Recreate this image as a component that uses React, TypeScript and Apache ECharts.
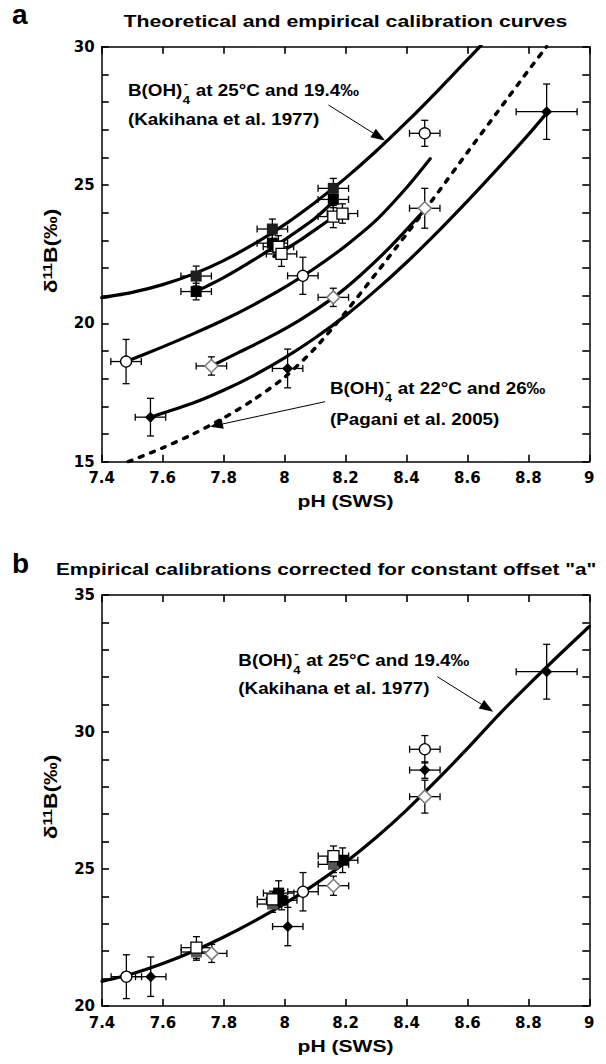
import React, { useEffect, useRef } from "react";
import * as echarts from "echarts";

// ---------- axes ----------
const X_MIN = 7.4;
const X_MAX = 9;
const X_STEP = 0.2;
const Y_MIN_A = 15;
const Y_MAX_A = 30;
const Y_MIN_B = 20;
const Y_MAX_B = 35;
const Y_STEP = 1;
const Y_LABEL_EVERY = 5;

// ---------- panel a: curves [pH, d11B] ----------
const kakihanaA = [
  [7.4, 20.93], [7.5, 21.12], [7.6, 21.4], [7.7, 21.78], [7.8, 22.27], [7.9, 22.87],
  [8.0, 23.57], [8.1, 24.37], [8.2, 25.25], [8.3, 26.22], [8.4, 27.27], [8.5, 28.38],
  [8.6, 29.53], [8.645, 30.05],
];
const blackSquareCurveA = [
  [7.71, 21.15], [7.8, 21.65], [7.9, 22.3], [8.0, 23.02], [8.1, 23.8], [8.165, 24.45],
];
const openSquareCurveA = [[7.965, 22.42], [8.05, 23.0], [8.1, 23.38], [8.18, 24.0]];
const openCircleCurveA = [
  [7.48, 18.62], [7.6, 19.15], [7.7, 19.62], [7.8, 20.12], [7.9, 20.68], [8.0, 21.3],
  [8.1, 22.0], [8.2, 22.8], [8.3, 23.72], [8.4, 24.9], [8.478, 25.95],
];
const openDiamondCurveA = [
  [7.76, 18.46], [7.85, 18.95], [7.95, 19.5], [8.05, 20.12], [8.16, 20.93], [8.25, 21.75],
  [8.35, 22.8], [8.46, 24.1],
];
const blackDiamondCurveA = [
  [7.56, 16.61], [7.7, 17.12], [7.8, 17.58], [7.9, 18.12], [8.0, 18.75], [8.1, 19.47],
  [8.2, 20.28], [8.3, 21.2], [8.4, 22.2], [8.5, 23.28], [8.6, 24.42], [8.7, 25.6],
  [8.8, 26.82], [8.86, 27.6],
];
const paganiA = [
  [7.487, 15.0], [7.6, 15.5], [7.7, 16.0], [7.8, 16.58], [7.9, 17.25], [8.0, 18.05],
  [8.1, 19.1], [8.2, 20.4], [8.3, 21.8], [8.4, 23.22], [8.5, 24.68], [8.6, 26.18],
  [8.7, 27.66], [8.8, 29.14], [8.86, 30.0],
];

// ---------- panel a: data [pH, d11B, ±pH, ±d11B] ----------
const darkSquaresA = [[7.71, 21.71, 0.05, 0.36], [7.96, 23.41, 0.05, 0.36], [8.16, 24.88, 0.05, 0.36]];
const blackSquaresA = [[7.71, 21.15, 0.05, 0.3], [7.96, 22.9, 0.05, 0.3], [8.16, 24.48, 0.05, 0.3]];
const openSquaresA = [[7.98, 22.77, 0.05, 0.4], [7.99, 22.51, 0.05, 0.45], [8.16, 23.86, 0.05, 0.4], [8.19, 23.97, 0.05, 0.35]];
const openCirclesA = [[7.48, 18.62, 0.05, 0.8], [8.06, 21.72, 0.05, 0.67], [8.46, 26.87, 0.05, 0.47]];
const openDiamondsA = [[7.76, 18.46, 0.05, 0.33], [8.16, 20.94, 0.05, 0.33], [8.46, 24.16, 0.05, 0.72]];
const blackDiamondsA = [[7.56, 16.61, 0.05, 0.68], [8.01, 18.37, 0.05, 0.7], [8.86, 27.65, 0.1, 1.0]];

// ---------- panel b ----------
const kakihanaB = [
  [7.4, 20.9], [7.5, 21.18], [7.6, 21.55], [7.7, 22.0], [7.8, 22.52], [7.9, 23.1], [8.0, 23.74],
  [8.1, 24.45], [8.2, 25.25], [8.3, 26.15], [8.4, 27.15], [8.5, 28.25], [8.6, 29.4], [8.7, 30.6],
  [8.8, 31.72], [8.9, 32.8], [9.0, 33.85],
];
const graySquaresB = [[7.71, 21.97, 0.05, 0.3], [7.96, 23.72, 0.05, 0.3], [8.16, 25.17, 0.05, 0.3]];
const blackSquaresB = [[7.98, 24.12, 0.05, 0.45], [7.99, 23.86, 0.05, 0.35], [8.19, 25.32, 0.05, 0.45]];
const openSquaresB = [[7.71, 22.13, 0.05, 0.4], [7.96, 23.89, 0.05, 0.3], [8.16, 25.47, 0.05, 0.37]];
const openCirclesB = [[7.48, 21.07, 0.05, 0.8], [8.06, 24.17, 0.05, 0.7], [8.46, 29.37, 0.05, 0.5]];
const openDiamondsB = [[7.76, 21.92, 0.05, 0.33], [8.16, 24.39, 0.05, 0.35], [8.46, 27.64, 0.05, 0.6]];
const blackDiamondsB = [[7.56, 21.07, 0.05, 0.72], [8.01, 22.9, 0.05, 0.7], [8.46, 28.61, 0.05, 0.3], [8.86, 32.2, 0.1, 1.0]];

// ---------- texts ----------
const TITLE_A = "Theoretical and empirical calibration curves";
const TITLE_B = 'Empirical calibrations corrected for constant offset "a"';
const X_NAME = "pH (SWS)";
const KAKI_REST = " at 25°C and 19.4‰";
const KAKI_REF = "(Kakihana et al. 1977)";
const PAGANI_REST = " at 22°C and 26‰";
const PAGANI_REF = "(Pagani et al. 2005)";

const FF = '"Liberation Sans", Arial, Helvetica, sans-serif';

let mctx: CanvasRenderingContext2D | null = null;
function measure(t: string, font: string) {
  if (!mctx) mctx = document.createElement("canvas").getContext("2d");
  mctx!.font = font;
  return mctx!.measureText(t).width;
}

function txt(x: number, y: number, text: string, size: number, sx = 1, align = "left") {
  return {
    type: "text",
    x,
    y,
    scaleX: sx,
    silent: true,
    z: 100,
    style: {
      text,
      fontSize: size,
      fontWeight: "bold",
      fontFamily: FF,
      fill: "#000",
      align,
      textAlign: align,
      verticalAlign: "middle",
      textVerticalAlign: "middle",
    },
  };
}

function boronLabel(x: number, y: number, rest: string, ref: string, dy: number) {
  const fs = 16.5;
  const sx = 1.14;
  const sub = 11.5;
  const w1 = measure("B(OH)", `bold ${fs}px ${FF}`) * sx;
  const w4 = measure("4", `bold ${sub}px ${FF}`) * sx;
  return [
    txt(x, y, "B(OH)", fs, sx),
    txt(x + w1 + 0.5, y + 10, "4", sub, sx),
    txt(x + w1 + 1.5, y - 7, "-", sub, sx),
    txt(x + w1 + w4 + 1, y, rest, fs, sx),
    txt(x, y + dy, ref, fs, sx),
  ];
}

function arrow(x1: number, y1: number, x2: number, y2: number, head = 13, half = 5) {
  const dx = x2 - x1;
  const dy = y2 - y1;
  const L = Math.hypot(dx, dy);
  const ux = dx / L;
  const uy = dy / L;
  const bx = x2 - ux * head;
  const by = y2 - uy * head;
  return [
    { type: "line", silent: true, z: 100, shape: { x1, y1, x2: bx, y2: by }, style: { stroke: "#000", lineWidth: 1 } },
    {
      type: "polygon",
      silent: true,
      z: 100,
      shape: { points: [[x2, y2], [bx - uy * half, by + ux * half], [bx + uy * half, by - ux * half]] },
      style: { fill: "#000" },
    },
  ];
}

function yLabel(x: number, y: number) {
  return {
    type: "text",
    x,
    y,
    rotation: Math.PI / 2,
    scaleX: 1.2,
    silent: true,
    z: 100,
    style: {
      text: "{n|δ}{s|11}{n|B(‰)}",
      align: "center",
      textAlign: "center",
      verticalAlign: "middle",
      textVerticalAlign: "middle",
      fill: "#000",
      fontSize: 19,
      fontWeight: "bold",
      fontFamily: FF,
      rich: {
        n: { fontSize: 19, fontWeight: "bold", fontFamily: FF, fill: "#000", color: "#000" },
        s: { fontSize: 13, fontWeight: "bold", fontFamily: FF, fill: "#000", color: "#000", verticalAlign: "top" },
      },
    },
  };
}

function errRender(_p: any, api: any) {
  const x = api.value(0);
  const y = api.value(1);
  const ex = api.value(2);
  const ey = api.value(3);
  const c = api.coord([x, y]);
  const l = api.coord([x - ex, y]);
  const r = api.coord([x + ex, y]);
  const t = api.coord([x, y + ey]);
  const b = api.coord([x, y - ey]);
  const cap = 3.5;
  const st = { stroke: "#000", lineWidth: 1.3 };
  const ln = (x1: number, y1: number, x2: number, y2: number) => ({ type: "line", shape: { x1, y1, x2, y2 }, style: st });
  return {
    type: "group",
    children: [
      ln(l[0], c[1], r[0], c[1]),
      ln(l[0], c[1] - cap, l[0], c[1] + cap),
      ln(r[0], c[1] - cap, r[0], c[1] + cap),
      ln(c[0], t[1], c[0], b[1]),
      ln(c[0] - cap, t[1], c[0] + cap, t[1]),
      ln(c[0] - cap, b[1], c[0] + cap, b[1]),
    ],
  };
}

const tickFont = () => ({ fontFamily: "DejaVu Sans", fontWeight: "bold", fontSize: 15, color: "#000" });
const tick = () => ({ show: true, inside: true, length: 7, lineStyle: { color: "#000", width: 1.6 } });
const line = () => ({ show: true, onZero: false, lineStyle: { color: "#000", width: 1.5 } });

function axesX(grid: number) {
  const mk = (position: string, labels: boolean): any => ({
    type: "value",
    gridIndex: grid,
    position,
    min: X_MIN,
    max: X_MAX,
    interval: X_STEP,
    axisLine: line(),
    axisTick: tick(),
    splitLine: { show: false },
    axisLabel: labels
      ? { ...tickFont(), margin: 9, formatter: (v: number) => String(Math.round(v * 10) / 10) }
      : { show: false },
  });
  return [mk("bottom", true), mk("top", false)];
}

function axesY(grid: number, min: number, max: number) {
  const mk = (position: string, labels: boolean): any => ({
    type: "value",
    gridIndex: grid,
    position,
    min,
    max,
    interval: Y_STEP,
    axisLine: line(),
    axisTick: tick(),
    splitLine: { show: false },
    axisLabel: labels
      ? { ...tickFont(), margin: 7, formatter: (v: number) => (Math.round(v) % Y_LABEL_EVERY === 0 ? String(Math.round(v)) : "") }
      : { show: false },
  });
  return [mk("left", true), mk("right", false)];
}

function curve(data: number[][], xi: number, yi: number, dashed = false) {
  return {
    type: "line",
    xAxisIndex: xi,
    yAxisIndex: yi,
    data,
    symbol: "none",
    showSymbol: false,
    smooth: 0.25,
    silent: true,
    z: 2,
    lineStyle: dashed
      ? { color: "#000", width: 3.5, type: [4, 8], cap: "round", opacity: 1 }
      : { color: "#000", width: 3.2, cap: "round", opacity: 1 },
  };
}

function errs(data: number[][], xi: number, yi: number) {
  return {
    type: "custom",
    xAxisIndex: xi,
    yAxisIndex: yi,
    data,
    encode: { x: 0, y: 1 },
    renderItem: errRender,
    silent: true,
    z: 3,
  };
}

function marks(data: number[][], xi: number, yi: number, symbol: string, size: number, itemStyle: any) {
  return {
    type: "scatter",
    xAxisIndex: xi,
    yAxisIndex: yi,
    data: data.map((d) => [d[0], d[1]]),
    symbol,
    symbolSize: size,
    itemStyle: { opacity: 1, ...itemStyle },
    silent: true,
    z: 4,
  };
}

const S_DARK = { color: "#1e1e1e" };
const S_GRAY = { color: "#555555" };
const S_BLACK = { color: "#000" };
const S_OPEN = { color: "#fff", borderColor: "#000", borderWidth: 1.3 };
const S_OPEN_DIA = { color: "#fff", borderColor: "#7a7a7a", borderWidth: 1.5 };

function buildOption(): any {
  const series: any[] = [];
  [kakihanaA, blackSquareCurveA, openSquareCurveA, openCircleCurveA, openDiamondCurveA, blackDiamondCurveA].forEach((c) =>
    series.push(curve(c, 0, 0))
  );
  series.push(curve(paganiA, 0, 0, true));
  [darkSquaresA, blackSquaresA, openSquaresA, openCirclesA, openDiamondsA, blackDiamondsA].forEach((d) =>
    series.push(errs(d, 0, 0))
  );
  series.push(marks(darkSquaresA, 0, 0, "rect", 11, S_DARK));
  series.push(marks(blackSquaresA, 0, 0, "rect", 11, S_BLACK));
  series.push(marks(openSquaresA, 0, 0, "rect", 11, S_OPEN));
  series.push(marks(openCirclesA, 0, 0, "circle", 11, S_OPEN));
  series.push(marks(openDiamondsA, 0, 0, "diamond", 13, S_OPEN_DIA));
  series.push(marks(blackDiamondsA, 0, 0, "diamond", 11, S_BLACK));

  series.push(curve(kakihanaB, 2, 2));
  [graySquaresB, blackSquaresB, openSquaresB, openCirclesB, openDiamondsB, blackDiamondsB].forEach((d) =>
    series.push(errs(d, 2, 2))
  );
  series.push(marks(graySquaresB, 2, 2, "rect", 11, S_GRAY));
  series.push(marks(blackSquaresB, 2, 2, "rect", 11, S_BLACK));
  series.push(marks(openSquaresB, 2, 2, "rect", 11, S_OPEN));
  series.push(marks(openCirclesB, 2, 2, "circle", 11, S_OPEN));
  series.push(marks(openDiamondsB, 2, 2, "diamond", 13, S_OPEN_DIA));
  series.push(marks(blackDiamondsB, 2, 2, "diamond", 11, S_BLACK));

  const elements: any[] = [
    txt(12, 14, "a", 28),
    txt(345.5, 21, TITLE_A, 17, 1.25, "center"),
    txt(12, 563, "b", 28),
    txt(56, 569, TITLE_B, 17, 1.22, "left"),
    txt(345.5, 501, X_NAME, 17, 1.24, "center"),
    txt(345.5, 1046, X_NAME, 17, 1.24, "center"),
    yLabel(50, 251),
    yLabel(50, 797),
    ...boronLabel(128, 90, KAKI_REST, KAKI_REF, 29),
    ...arrow(328.5, 105, 385, 140.5, 14, 5),
    ...boronLabel(330, 388.5, PAGANI_REST, PAGANI_REF, 31),
    ...arrow(325, 401.7, 210, 426.7, 13, 5),
    ...boronLabel(238.3, 660, KAKI_REST, KAKI_REF, 28.5),
    ...arrow(437.3, 676.7, 493.3, 711.7, 14, 5),
  ];

  return {
    animation: false,
    backgroundColor: "#fff",
    grid: [
      { left: 101.7, top: 46.7, width: 487.6, height: 415, containLabel: false, outerBoundsMode: "none" },
      { left: 102, top: 595, width: 487.3, height: 411, containLabel: false, outerBoundsMode: "none" },
    ],
    xAxis: [...axesX(0), ...axesX(1)],
    yAxis: [...axesY(0, Y_MIN_A, Y_MAX_A), ...axesY(1, Y_MIN_B, Y_MAX_B)],
    series,
    graphic: { elements },
  };
}

export default function App() {
  const ref = useRef<HTMLDivElement>(null);
  useEffect(() => {
    document.body.style.margin = "0";
    const chart = echarts.init(ref.current!, undefined, { renderer: "svg" });
    chart.setOption(buildOption());
    return () => chart.dispose();
  }, []);
  return <div ref={ref} style={{ width: 606, height: 1064 }} />;
}
